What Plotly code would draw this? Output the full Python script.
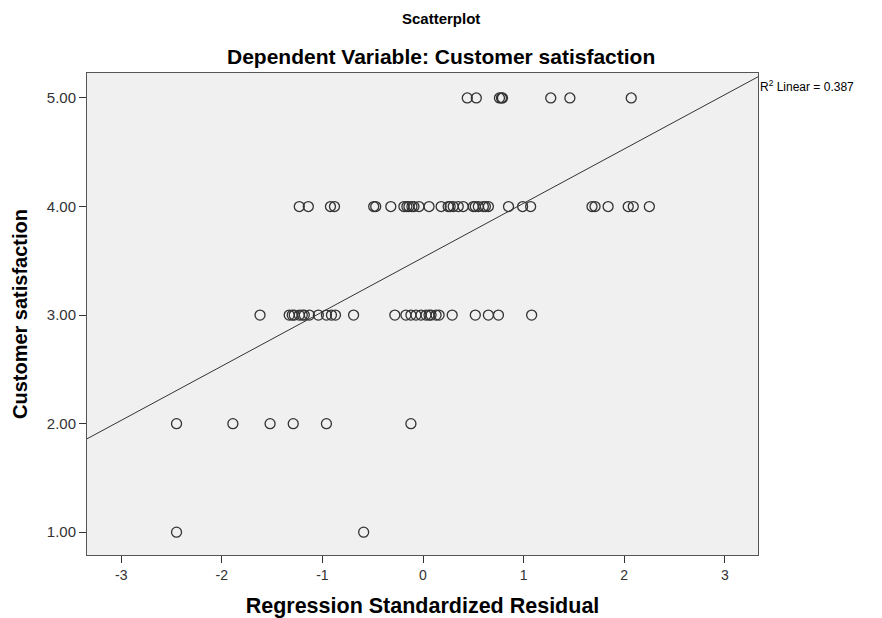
import plotly.graph_objects as go

# ---- data ----
resid_5 = [0.44, 0.53, 0.76, 0.78, 0.79, 1.27, 1.46, 2.07]
resid_4 = [-1.23, -1.14, -0.92, -0.88, -0.49, -0.47, -0.32, -0.19, -0.16, -0.14, -0.11,
           -0.09, -0.04, 0.06, 0.18, 0.25, 0.27, 0.30, 0.35, 0.40, 0.50, 0.52, 0.55,
           0.60, 0.62, 0.65, 0.85, 0.99, 1.07, 1.68, 1.71, 1.84, 2.04, 2.09, 2.25]
resid_3 = [-1.62, -1.33, -1.30, -1.28, -1.23, -1.20, -1.18, -1.13, -1.04, -0.96, -0.91,
           -0.87, -0.69, -0.28, -0.17, -0.12, -0.07, -0.02, 0.03, 0.06, 0.08, 0.13,
           0.16, 0.29, 0.52, 0.65, 0.75, 1.08]
resid_2 = [-2.45, -1.89, -1.52, -1.29, -0.96, -0.12]
resid_1 = [-2.45, -0.59]
satisfaction_levels = [5, 4, 3, 2, 1]

fit_intercept = 3.53
fit_slope = 0.50
r2_text = "R<sup>2</sup> Linear = 0.387"

x_ticks = [-3, -2, -1, 0, 1, 2, 3]
x_tick_labels = ["-3", "-2", "-1", "0", "1", "2", "3"]
y_ticks = [1, 2, 3, 4, 5]
x_range = [-3.34, 3.33]
y_range = [0.79, 5.23]

xs, ys = [], []
for lvl, arr in zip(satisfaction_levels, [resid_5, resid_4, resid_3, resid_2, resid_1]):
    xs += arr
    ys += [lvl] * len(arr)

fig = go.Figure()
fig.add_trace(go.Scatter(
    x=[x_range[0], x_range[1]],
    y=[fit_intercept + fit_slope * x_range[0], fit_intercept + fit_slope * x_range[1]],
    mode="lines", line=dict(color="#333333", width=1), hoverinfo="skip",
    showlegend=False, cliponaxis=True))
fig.add_trace(go.Scatter(
    x=xs, y=ys, mode="markers",
    marker=dict(symbol="circle-open", size=10, color="#333333", line=dict(width=1.3)),
    showlegend=False))

FONT = "Liberation Sans, Arial, sans-serif"
# page body has an 8px margin, so the figure is 8px smaller and shifted
fig.update_layout(
    width=874, height=610,
    margin=dict(l=79, r=124, t=65, b=63),
    paper_bgcolor="white", plot_bgcolor="#F0F0F0",
    font=dict(family=FONT, color="#222222"),
    annotations=[
        dict(text="<b>Scatterplot</b>", xref="paper", yref="paper", x=0.5276, y=1.0,
             yshift=55, xanchor="center", yanchor="middle", showarrow=False,
             font=dict(size=15, family=FONT, color="black")),
        dict(text="<b>Dependent Variable: Customer satisfaction</b>", xref="paper",
             yref="paper", x=0.5276, y=1.0, yshift=17, xanchor="center",
             yanchor="middle", showarrow=False,
             font=dict(size=21, family=FONT, color="black")),
        dict(text=r2_text, xref="paper", yref="paper", x=1.0, y=1.0, yshift=-13,
             xanchor="left", yanchor="middle", showarrow=False,
             font=dict(size=12, family=FONT, color="black")),
    ],
)
fig.update_xaxes(
    range=x_range, tickvals=x_ticks, ticktext=x_tick_labels, ticks="outside",
    ticklen=7, tickwidth=1,
    tickcolor="#333333", showgrid=False, zeroline=False, showline=True,
    linecolor="#555555", linewidth=1, mirror=True, automargin=False,
    tickfont=dict(size=14, family=FONT, color="#333333"),
    title=dict(text="<b>Regression Standardized Residual</b>", standoff=16,
               font=dict(size=21.5, family=FONT, color="black")))
fig.update_yaxes(
    range=y_range, tickvals=y_ticks, tickformat=".2f", ticks="outside", ticklen=7,
    tickwidth=1, tickcolor="#333333", showgrid=False, zeroline=False, showline=True,
    linecolor="#555555", linewidth=1, mirror=True, automargin=False,
    tickfont=dict(size=15, family=FONT, color="#333333"),
    title=dict(text="<b>Customer satisfaction</b>", standoff=13,
               font=dict(size=20, family=FONT, color="black")))

fig.write_html("out.html")
